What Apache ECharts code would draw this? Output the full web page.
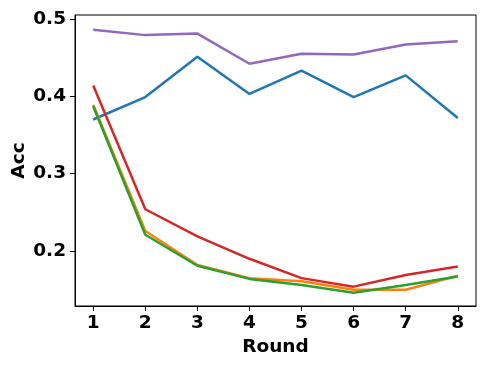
<!DOCTYPE html>
<html>
<head>
<meta charset="utf-8">
<script src="https://cdn.jsdelivr.net/npm/echarts@6/dist/echarts.min.js"></script>
<style>
  html, body { margin: 0; padding: 0; background: #fff; }
  #chart { width: 488px; height: 366px; }
</style>
</head>
<body>
<div id="chart"></div>
<script>
const rounds = [1, 2, 3, 4, 5, 6, 7, 8]
const yTicks = [0.2, 0.3, 0.4, 0.5]

// one array per line, matplotlib default colour order
const blueAcc = [0.370, 0.399, 0.451, 0.403, 0.433, 0.399, 0.427, 0.372]
const orangeAcc = [0.389, 0.226, 0.182, 0.165, 0.161, 0.150, 0.150, 0.168]
const greenAcc = [0.387, 0.221, 0.181, 0.164, 0.156, 0.146, 0.156, 0.167]
const redAcc = [0.414, 0.254, 0.219, 0.190, 0.165, 0.154, 0.169, 0.180]
const purpleAcc = [0.486, 0.479, 0.481, 0.442, 0.455, 0.454, 0.467, 0.471]

const lines = [
  { data: blueAcc, color: '#1f77b4' },
  { data: orangeAcc, color: '#ff7f0e' },
  { data: greenAcc, color: '#2ca02c' },
  { data: redAcc, color: '#d62728' },
  { data: purpleAcc, color: '#9467bd' }
]

const font = 'DejaVu Sans'
const txt = { fontFamily: font, fontWeight: 'bold', fontSize: 18.5, color: '#000' }
const chart = echarts.init(document.getElementById('chart'))

chart.setOption({
  animation: false,
  grid: {
    left: 75, right: 12, top: 15, bottom: 60,
    outerBoundsMode: 'none',
    show: true, borderColor: '#000', borderWidth: 1
  },
  xAxis: {
    type: 'value',
    min: 0.65,
    max: 8.35,
    name: 'Round',
    nameLocation: 'middle',
    nameGap: 29,
    nameTextStyle: txt,
    axisLine: { show: true, lineStyle: { color: '#000', width: 1 } },
    axisTick: { show: true, inside: false, length: 5, customValues: rounds, lineStyle: { color: '#000' } },
    axisLabel: Object.assign({ customValues: rounds, margin: 8 }, txt),
    splitLine: { show: false }
  },
  yAxis: {
    type: 'value',
    min: 0.129,
    max: 0.505,
    name: 'Acc',
    nameLocation: 'middle',
    nameGap: 46,
    nameMoveOverlap: false,
    nameTextStyle: txt,
    axisLine: { show: true, lineStyle: { color: '#000', width: 1 } },
    axisTick: { show: true, inside: false, length: 5, customValues: yTicks, lineStyle: { color: '#000' } },
    axisLabel: Object.assign({ customValues: yTicks, margin: 9, formatter: v => v.toFixed(1) }, txt),
    splitLine: { show: false }
  },
  series: lines.map(l => ({
    type: 'line',
    data: rounds.map((r, i) => [r, l.data[i]]),
    showSymbol: false,
    lineStyle: { color: l.color, width: 2.5 },
    itemStyle: { color: l.color }
  }))
})
</script>
</body>
</html>
